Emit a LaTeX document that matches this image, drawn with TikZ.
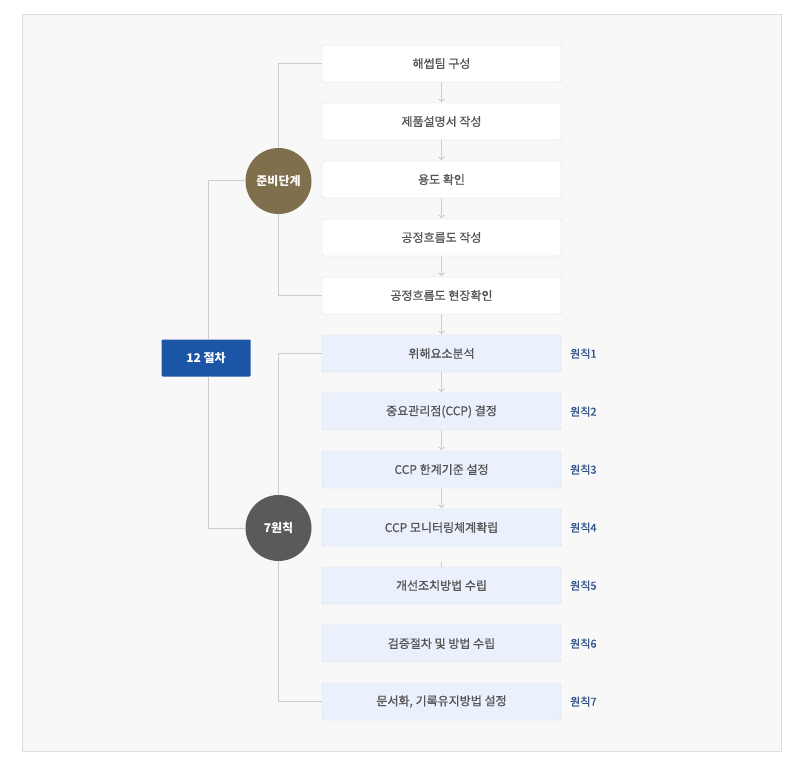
\documentclass[tikz,border=0pt]{standalone}
\usepackage{fontspec}
\setmainfont{Noto Sans CJK KR}
\newfontfamily\medfont{Noto Sans CJK KR}[FakeBold=0.9]
\usetikzlibrary{arrows.meta, positioning}
\definecolor{panelGray}{HTML}{F8F8F8}
\definecolor{panelLine}{HTML}{DDDDDD}
\definecolor{boxLine}{HTML}{D8D8D8}
\definecolor{stepBlue}{HTML}{EAF1FD}
\definecolor{stepBlueLine}{HTML}{D3DAE6}
\definecolor{prepBrown}{HTML}{806F4C}
\definecolor{princGray}{HTML}{5A5A5A}
\definecolor{procBlue}{HTML}{1C54A6}
\definecolor{linkGray}{HTML}{CCCCCC}
\definecolor{textGray}{HTML}{555555}
\definecolor{labelBlue}{HTML}{35558A}
\tikzset{
  stepW/.style={rectangle, rounded corners=1.5pt, draw=boxLine, fill=white,
                minimum width=239pt, minimum height=37pt, inner sep=0pt,
                outer sep=0pt, text=textGray,
                font=\medfont\fontsize{12}{14}\selectfont},
  stepB/.style={stepW, draw=stepBlueLine, fill=stepBlue},
  phase/.style={circle, minimum size=66pt, inner sep=0pt, text=white,
                font=\bfseries\fontsize{12}{14}\selectfont},
  procBox/.style={rectangle, rounded corners=1pt, fill=procBlue, text=white,
                  minimum width=89pt, minimum height=37pt, inner sep=0pt,
                  font=\bfseries\fontsize{12}{14}\selectfont},
  principle/.style={anchor=west, inner sep=0pt, text=labelBlue,
                    font=\medfont\fontsize{11}{13}\selectfont},
  linkG/.style={linkGray, line width=1pt},
  arrowG/.style={-{Straight Barb[length=2.5pt, width=6pt]}, linkGray,
                 line width=1pt, shorten >=1pt},
}
\begin{document}
\begin{tikzpicture}[x=1pt, y=-1pt]
    \fill[white] (0,0) rectangle (802,759);
    \draw[panelLine, fill=panelGray] (22,14) rectangle (781,751);

    \node[stepW] (b1) at (441.5,63.5) {해썹팀 구성};
    \node[stepW, below=21pt of b1] (b2) {제품설명서 작성};
    \node[stepW, below=21pt of b2] (b3) {용도 확인};
    \node[stepW, below=21pt of b3] (b4) {공정흐름도 작성};
    \node[stepW, below=21pt of b4] (b5) {공정흐름도 현장확인};
    \node[stepB, below=21pt of b5] (b6) {위해요소분석};
    \node[stepB, below=21pt of b6] (b7) {중요관리점(CCP) 결정};
    \node[stepB, below=21pt of b7] (b8) {CCP 한계기준 설정};
    \node[stepB, below=21pt of b8] (b9) {CCP 모니터링체계확립};
    \node[stepB, below=21pt of b9] (b10) {개선조치방법 수립};
    \node[stepB, below=21pt of b10] (b11) {검증절차 및 방법 수립};
    \node[stepB, below=21pt of b11] (b12) {문서화, 기록유지방법 설정};

    \node[principle, right=9pt of b6] (p1) {원칙1};
    \node[principle, right=9pt of b7] (p2) {원칙2};
    \node[principle, right=9pt of b8] (p3) {원칙3};
    \node[principle, right=9pt of b9] (p4) {원칙4};
    \node[principle, right=9pt of b10] (p5) {원칙5};
    \node[principle, right=9pt of b11] (p6) {원칙6};
    \node[principle, right=9pt of b12] (p7) {원칙7};

    \foreach \i [count=\j from 2] in {1,...,8}
      \draw[arrowG] (b\i) -- (b\j);
    \coordinate[above=5pt of b10] (s10);
    \draw[linkG] (s10) -- (b10);

    \node[phase, fill=prepBrown] (prep) at (278.5,181) {준비단계};
    \node[phase, fill=princGray] (princ) at (278.5,528) {7원칙};
    \node[procBox] (proc) at (206,358) {12 절차};

    \draw[linkG] (b1.west) -| (prep.north);
    \draw[linkG] (b5.west) -| (prep.south);
    \draw[linkG] (b6.west) -| (princ.north);
    \draw[linkG] (b12.west) -| (princ.south);
    \draw[linkG] (prep.west) -| ([xshift=2pt]proc.north);
    \draw[linkG] (princ.west) -| ([xshift=2pt]proc.south);
\end{tikzpicture}
\end{document}
